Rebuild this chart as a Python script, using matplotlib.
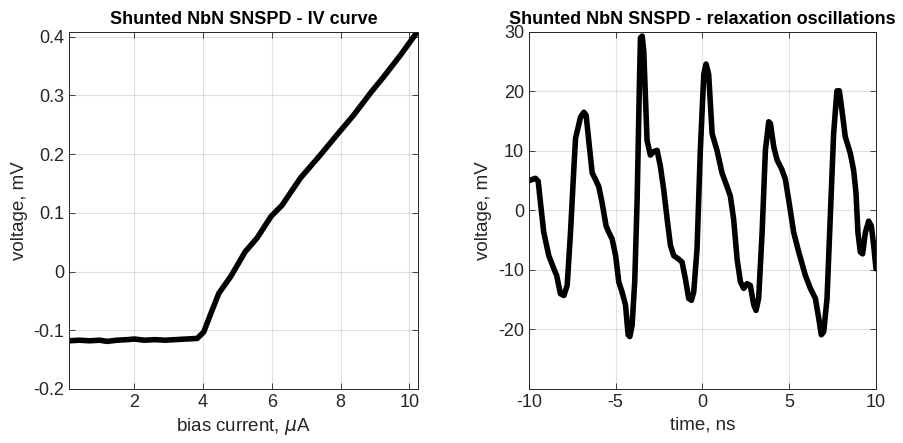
import numpy as np
import matplotlib.pyplot as plt

# IV curve (bias current in uA, voltage in mV)
iv_current = [0.1, 0.4, 0.7, 1.0, 1.2, 1.5, 1.8, 2.0, 2.3, 2.6, 2.9, 3.2, 3.5, 3.83,
              4.02, 4.21, 4.46, 4.8, 5.23, 5.57, 5.98, 6.3, 6.83, 7.42, 7.9, 8.39,
              8.87, 9.26, 9.75, 10.23]
iv_voltage = [-0.118, -0.117, -0.118, -0.117, -0.119, -0.117, -0.116, -0.115, -0.117,
              -0.116, -0.117, -0.116, -0.115, -0.114,
              -0.103, -0.074, -0.037, -0.009, 0.034, 0.057, 0.094, 0.113, 0.159, 0.199,
              0.233, 0.267, 0.304, 0.332, 0.369, 0.408]

# relaxation oscillations (time in ns, voltage in mV)
osc_time = [-10.0, -9.62, -9.46, -9.33, -9.14, -8.85, -8.56, -8.4, -8.18, -7.98, -7.79,
            -7.6, -7.4, -7.31, -7.02, -6.83, -6.7, -6.55, -6.35, -6.16, -5.97, -5.78,
            -5.55, -5.39, -5.2, -5.0, -4.82, -4.63, -4.43, -4.28, -4.18, -4.05, -3.9,
            -3.76, -3.63, -3.57, -3.47, -3.38, -3.19, -3.0, -2.8, -2.61, -2.42, -2.23,
            -2.03, -1.84, -1.65, -1.36, -1.17, -0.98, -0.79, -0.63, -0.5, -0.31, -0.12,
            0.08, 0.21, 0.36, 0.56, 0.84, 1.13, 1.42, 1.61, 1.8, 2.0, 2.19, 2.38, 2.57,
            2.76, 2.96, 3.09, 3.24, 3.44, 3.63, 3.82, 3.92, 4.11, 4.3, 4.59, 4.78, 4.97,
            5.26, 5.55, 5.93, 6.22, 6.51, 6.7, 6.85, 6.99, 7.18, 7.37, 7.56, 7.75, 7.89,
            8.04, 8.23, 8.52, 8.71, 8.85, 8.96, 9.1, 9.23, 9.39, 9.58, 9.73, 9.87, 10.0]
osc_voltage = [5.0, 5.4, 4.9, 1.3, -3.7, -7.6, -9.8, -10.9, -14.0, -14.3, -12.6,
               -3.7, 7.4, 12.1, 15.7, 16.5, 16.0, 11.8, 6.3, 5.2, 4.0, 1.3,
               -2.6, -3.7, -4.8, -7.6, -12.0, -13.7, -15.9, -20.9, -21.2, -19.3, -12.0,
               1.8, 21.2, 29.0, 29.3, 26.8, 11.8, 9.3, 9.9, 10.1, 7.4, 3.5,
               -1.5, -5.9, -7.6, -8.2, -8.7, -11.5, -14.8, -15.1, -13.7, -6.5, 10.1,
               22.9, 24.6, 22.9, 12.9, 10.1, 6.3, 4.0, 2.4, -1.5, -8.2, -12.0, -13.1, -12.3,
               -12.6, -15.9, -16.8, -14.8, -3.7, 10.1, 14.9, 14.6, 10.7, 8.5, 6.8, 5.2, 1.8,
               -3.7, -7.0, -10.9, -13.1, -14.8, -18.1, -20.9, -20.4, -14.8, -0.9, 12.9, 20.1, 20.1,
               16.8, 12.4, 9.6, 6.8, 2.9, -3.7, -7.0, -7.3, -3.7, -1.8, -2.6, -5.9, -9.8]

plt.rcParams['font.family'] = ['Liberation Sans', 'DejaVu Sans']
plt.rcParams['mathtext.fontset'] = 'dejavusans'
plt.rcParams['axes.unicode_minus'] = False
txt = '#262626'

fig = plt.figure(figsize=(9.04, 4.43), dpi=100)
ax1 = fig.add_axes([0.0763, 0.122, 0.386, 0.806])
ax2 = fig.add_axes([0.585, 0.122, 0.384, 0.806])

def style(ax):
    ax.grid(True, color='#000000', alpha=0.12, linewidth=0.8)
    ax.tick_params(direction='in', top=True, right=True, length=4, colors=txt,
                   labelsize=13, width=0.6)
    for s in ax.spines.values():
        s.set_color(txt)
        s.set_linewidth(0.7)

ax1.plot(iv_current, iv_voltage, c='k', lw=4, solid_capstyle='round')
ax1.set_xlim(0.1, 10.25)
ax1.set_ylim(-0.2, 0.408)
ax1.set_xticks([2, 4, 6, 8, 10])
ax1.set_yticks([-0.2, -0.1, 0, 0.1, 0.2, 0.3, 0.4])
ax1.set_yticklabels(['-0.2', '-0.1', '0', '0.1', '0.2', '0.3', '0.4'])
ax1.set_xlabel(r'bias current, $\mu$A', fontsize=13.5, color=txt)
ax1.set_ylabel('voltage, mV', fontsize=13.5, color=txt)
ax1.set_title('Shunted NbN SNSPD - IV curve', fontsize=13, fontweight='bold', pad=6)
style(ax1)

ax2.plot(osc_time, osc_voltage, c='k', lw=4, solid_capstyle='round')
ax2.set_xlim(-10, 10)
ax2.set_ylim(-30, 30)
ax2.set_xticks([-10, -5, 0, 5, 10])
ax2.set_yticks([-20, -10, 0, 10, 20, 30])
ax2.set_xlabel('time, ns', fontsize=13.5, color=txt)
ax2.set_ylabel('voltage, mV', fontsize=13.5, color=txt)
ax2.set_title('Shunted NbN SNSPD - relaxation oscillations', fontsize=13,
              fontweight='bold', pad=6)
style(ax2)

fig.savefig('out.png', dpi=100)
